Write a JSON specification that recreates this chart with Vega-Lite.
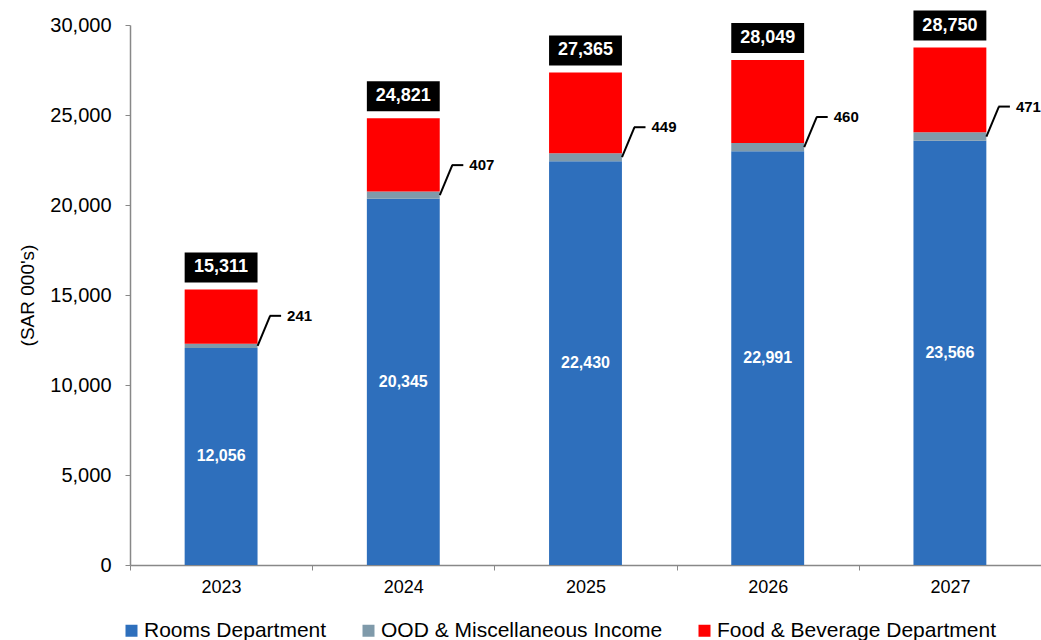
{
  "$schema": "https://vega.github.io/schema/vega-lite/v6.json",
  "width": 911,
  "height": 540,
  "autosize": {"type": "none"},
  "padding": {"left": 130, "top": 25, "right": 0, "bottom": 75},
  "config": {
    "font": "Liberation Sans",
    "view": {"stroke": null},
    "axis": {"labelFont": "Liberation Sans", "titleFont": "Liberation Sans", "grid": false}
  },
  "data": {
    "values": [
      {"year": "2023", "series": "Rooms Department", "order": 1, "value": 12056},
      {"year": "2023", "series": "OOD & Miscellaneous Income", "order": 2, "value": 241},
      {"year": "2023", "series": "Food & Beverage Department", "order": 3, "value": 3014},
      {"year": "2024", "series": "Rooms Department", "order": 1, "value": 20345},
      {"year": "2024", "series": "OOD & Miscellaneous Income", "order": 2, "value": 407},
      {"year": "2024", "series": "Food & Beverage Department", "order": 3, "value": 4069},
      {"year": "2025", "series": "Rooms Department", "order": 1, "value": 22430},
      {"year": "2025", "series": "OOD & Miscellaneous Income", "order": 2, "value": 449},
      {"year": "2025", "series": "Food & Beverage Department", "order": 3, "value": 4486},
      {"year": "2026", "series": "Rooms Department", "order": 1, "value": 22991},
      {"year": "2026", "series": "OOD & Miscellaneous Income", "order": 2, "value": 460},
      {"year": "2026", "series": "Food & Beverage Department", "order": 3, "value": 4598},
      {"year": "2027", "series": "Rooms Department", "order": 1, "value": 23566},
      {"year": "2027", "series": "OOD & Miscellaneous Income", "order": 2, "value": 471},
      {"year": "2027", "series": "Food & Beverage Department", "order": 3, "value": 4713}
    ]
  },
  "layer": [
    {
      "mark": {"type": "bar", "width": {"band": 0.4}},
      "encoding": {
        "x": {
          "field": "year", "type": "nominal", "title": null,
          "scale": {"paddingInner": 0, "paddingOuter": 0},
          "axis": {
            "labelAngle": 0, "labelFontSize": 18, "labelColor": "#000000",
            "domainColor": "#888888", "tickColor": "#888888", "tickSize": 5,
            "tickBand": "extent", "labelPadding": 8, "domainWidth": 1.5
          }
        },
        "y": {
          "field": "value", "type": "quantitative", "stack": "zero",
          "title": "(SAR 000's)",
          "scale": {"domain": [0, 30000], "nice": false},
          "axis": {
            "values": [0, 5000, 10000, 15000, 20000, 25000, 30000],
            "format": ",.0f", "labelFontSize": 20, "labelColor": "#000000",
            "domainColor": "#888888", "tickColor": "#888888", "tickSize": 5,
            "labelPadding": 14, "domainWidth": 1.5,
            "titleFontSize": 19, "titleFontWeight": "normal", "titleColor": "#000000", "titlePadding": 12
          }
        },
        "color": {
          "field": "series", "type": "nominal",
          "scale": {
            "domain": ["Rooms Department", "OOD & Miscellaneous Income", "Food & Beverage Department"],
            "range": ["#2E6FBC", "#7F9AAA", "#FF0000"]
          },
          "legend": {
            "title": null, "orient": "none", "direction": "horizontal",
            "legendX": -9, "legendY": 595, "labelFontSize": 21, "labelColor": "#000000",
            "symbolType": "square", "symbolSize": 144, "symbolStrokeWidth": 0,
            "labelOffset": 2, "columnPadding": 31, "labelLimit": 500
          }
        },
        "order": {"field": "order", "type": "quantitative"}
      }
    },
    {
      "mark": {"type": "bar", "color": "#000000", "width": {"band": 0.4}, "yOffset": -7, "y2Offset": -37},
      "encoding": {
        "x": {"field": "year", "type": "nominal", "title": null},
        "y": {"aggregate": "sum", "field": "value", "type": "quantitative", "title": "(SAR 000's)"},
        "y2": {"aggregate": "sum", "field": "value"}
      }
    },
    {
      "mark": {"type": "text", "color": "#FFFFFF", "fontWeight": "bold", "fontSize": 18, "yOffset": -22, "baseline": "middle"},
      "encoding": {
        "x": {"field": "year", "type": "nominal", "title": null},
        "y": {"aggregate": "sum", "field": "value", "type": "quantitative", "title": "(SAR 000's)"},
        "text": {"aggregate": "sum", "field": "value", "type": "quantitative", "format": ","}
      }
    },
    {
      "transform": [
        {"stack": "value", "groupby": ["year"], "sort": [{"field": "order", "order": "ascending"}], "as": ["v0", "v1"]},
        {"fold": ["v0", "v1"], "as": ["edge", "pos"]},
        {"aggregate": [{"op": "mean", "field": "pos", "as": "mid"}], "groupby": ["year", "series", "value"]}
      ],
      "layer": [
        {
          "transform": [{"filter": "datum.series === 'Rooms Department'"}],
          "mark": {"type": "text", "color": "#FFFFFF", "fontWeight": "bold", "fontSize": 16, "baseline": "middle"},
          "encoding": {
            "x": {"field": "year", "type": "nominal", "title": null},
            "y": {"field": "mid", "type": "quantitative", "title": "(SAR 000's)"},
            "text": {"field": "value", "type": "quantitative", "format": ","}
          }
        },
        {
          "transform": [{"filter": "datum.series === 'OOD & Miscellaneous Income'"}],
          "mark": {"type": "rule", "color": "#000000", "strokeWidth": 2, "xOffset": 36.5, "x2Offset": 49, "y2Offset": -30},
          "encoding": {
            "x": {"field": "year", "type": "nominal", "title": null},
            "x2": {"field": "year"},
            "y": {"field": "mid", "type": "quantitative", "title": "(SAR 000's)"},
            "y2": {"field": "mid"}
          }
        },
        {
          "transform": [{"filter": "datum.series === 'OOD & Miscellaneous Income'"}],
          "mark": {"type": "rule", "color": "#000000", "strokeWidth": 2, "xOffset": 48.5, "x2Offset": 60, "yOffset": -30, "y2Offset": -30},
          "encoding": {
            "x": {"field": "year", "type": "nominal", "title": null},
            "x2": {"field": "year"},
            "y": {"field": "mid", "type": "quantitative", "title": "(SAR 000's)"},
            "y2": {"field": "mid"}
          }
        },
        {
          "transform": [{"filter": "datum.series === 'OOD & Miscellaneous Income'"}],
          "mark": {"type": "text", "color": "#000000", "fontWeight": "bold", "fontSize": 15, "align": "left", "baseline": "middle", "dx": 66, "dy": -30},
          "encoding": {
            "x": {"field": "year", "type": "nominal", "title": null},
            "y": {"field": "mid", "type": "quantitative", "title": "(SAR 000's)"},
            "text": {"field": "value", "type": "quantitative", "format": ","}
          }
        }
      ]
    }
  ]
}
